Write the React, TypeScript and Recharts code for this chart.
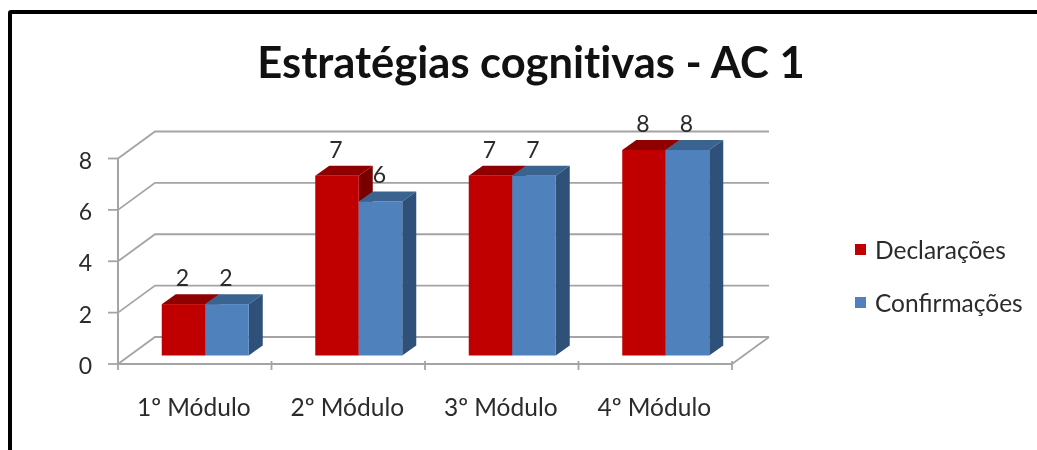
import React from 'react';
import { Bar, BarChart, CartesianGrid, LabelList, Legend, XAxis, YAxis } from 'recharts';

const categories = ['1º Módulo', '2º Módulo', '3º Módulo', '4º Módulo'];
const declaracoes = [2, 7, 7, 8];
const confirmacoes = [2, 6, 7, 8];
const yTicks = [0, 2, 4, 6, 8];

const data = categories.map((modulo, i) => ({
  modulo,
  Declarações: declaracoes[i],
  Confirmações: confirmacoes[i],
}));

const FONT = 'Lato, sans-serif';
const GRID = '#a4a4a4';
const TEXT = '#2b2b2b';

// perspective of the fake 3D wall and of the bars
const WALL_DX = 37;
const WALL_DY = -27;
const BAR_DX = 10.75;
const BAR_DY = -8.5;
const DEPTH_X = 14;
const DEPTH_Y = -10;

const RED = { front: '#c00000', top: '#8f0000', side: '#7a0000' };
const BLUE = { front: '#4f81bd', top: '#3b6390', side: '#2f5078' };

const Bar3D = (colors: typeof RED) => (props: any) => {
  const { width: w, height: h } = props;
  const x = props.x + BAR_DX;
  const y = props.y + BAR_DY;
  return (
    <g>
      <polygon
        points={`${x},${y} ${x + DEPTH_X},${y + DEPTH_Y} ${x + w + DEPTH_X},${y + DEPTH_Y} ${x + w},${y}`}
        fill={colors.top}
      />
      <polygon
        points={`${x + w},${y} ${x + w + DEPTH_X},${y + DEPTH_Y} ${x + w + DEPTH_X},${y + h + DEPTH_Y} ${x + w},${y + h}`}
        fill={colors.side}
      />
      <rect x={x} y={y} width={w} height={h} fill={colors.front} />
    </g>
  );
};

const ValueLabel = (props: any) => {
  const { x, y, width, value } = props;
  return (
    <text
      x={x + BAR_DX + width / 2 - 1}
      y={y + BAR_DY - 27}
      textAnchor="middle"
      dominantBaseline="central"
      fontFamily={FONT}
      fontSize={23}
      fill={TEXT}
    >
      {value}
    </text>
  );
};

const WallLine = (props: any) => {
  const { x1, x2, y1 } = props;
  const isFloor = y1 > 360;
  return (
    <g key={`wall-${y1}`} stroke={GRID} strokeWidth={1.8} fill="none">
      <polyline points={`${x1},${y1} ${x1 + WALL_DX},${y1 + WALL_DY} ${x2 + WALL_DX},${y1 + WALL_DY}`} />
      {isFloor && <line x1={x2} y1={y1} x2={x2 + WALL_DX} y2={y1 + WALL_DY} />}
    </g>
  );
};

const CategoryTick = (props: any) => {
  const { x, y, index, payload } = props;
  const half = 614 / categories.length / 2;
  const top = y - 10;
  return (
    <g>
      <line x1={x - half} y1={top - 1} x2={x - half} y2={top + 8} stroke={GRID} strokeWidth={1.8} />
      {index === categories.length - 1 && (
        <line x1={x + half} y1={top - 1} x2={x + half} y2={top + 8} stroke={GRID} strokeWidth={1.8} />
      )}
      <text x={x - 1} y={406} textAnchor="middle" dominantBaseline="central" fontFamily={FONT} fontSize={24.5} fill={TEXT}>
        {payload.value}
      </text>
    </g>
  );
};

const LegendList = ({ payload }: any) => (
  <div style={{ fontFamily: FONT, fontSize: 24.5, color: TEXT }}>
    {payload.map((item: any) => (
      <div key={item.value} style={{ display: 'flex', alignItems: 'center', height: 49, marginBottom: 4 }}>
        <span style={{ width: 11, height: 11, background: item.color, marginRight: 9 }} />
        {item.value}
      </div>
    ))}
  </div>
);

export default function App() {
  return (
    <div
      style={{
        position: 'fixed',
        left: 0,
        top: 0,
        width: 1037,
        height: 450,
        overflow: 'hidden',
        background: '#fff',
        filter: 'blur(0.5px)',
      }}
    >
      <div
        style={{
          position: 'absolute',
          left: 8,
          top: 10,
          width: 1100,
          height: 500,
          border: '4px solid #000',
          borderRadius: 3,
          boxSizing: 'border-box',
        }}
      />
      <div
        style={{
          position: 'absolute',
          left: 0,
          top: 35,
          width: 1062,
          textAlign: 'center',
          fontFamily: FONT,
          fontWeight: 700,
          fontSize: 43.5,
          lineHeight: '52px',
          fontVariantLigatures: 'none',
          color: '#111',
        }}
      >
        Estratégias cognitivas - AC 1
      </div>
      <div style={{ position: 'absolute', left: 0, top: 0 }}>
        <BarChart
          width={1037}
          height={450}
          data={data}
          barSize={43.5}
          barGap={0}
          barCategoryGap={0}
          margin={{ top: 158.5, right: 305, bottom: 0, left: 0 }}
        >
          <CartesianGrid horizontal={WallLine} vertical={false} />
          <XAxis
            dataKey="modulo"
            height={86}
            axisLine={{ stroke: GRID, strokeWidth: 2 }}
            tickLine={false}
            tick={CategoryTick}
            interval={0}
          />
          <YAxis
            width={118}
            domain={[0, 8]}
            ticks={yTicks}
            interval={0}
            tickSize={10}
            tickMargin={16}
            axisLine={{ stroke: GRID, strokeWidth: 2 }}
            tickLine={{ stroke: GRID, strokeWidth: 1.8 }}
            tick={{ fontFamily: FONT, fontSize: 23, fill: TEXT, dy: 2 }}
          />
          <Legend
            layout="vertical"
            content={LegendList}
            itemSorter={null}
            wrapperStyle={{ left: 855, top: 225, width: 180, height: 0 }}
          />
          <Bar dataKey="Declarações" fill={RED.front} shape={Bar3D(RED)} isAnimationActive={false}>
            <LabelList dataKey="Declarações" content={ValueLabel} />
          </Bar>
          <Bar dataKey="Confirmações" fill={BLUE.front} shape={Bar3D(BLUE)} isAnimationActive={false}>
            <LabelList dataKey="Confirmações" content={ValueLabel} />
          </Bar>
        </BarChart>
      </div>
    </div>
  );
}
